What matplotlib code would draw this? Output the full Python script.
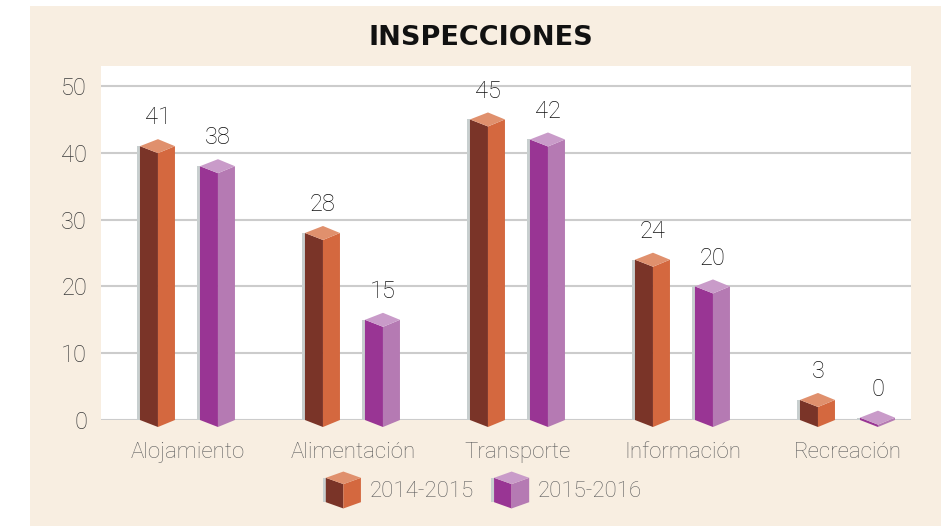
import matplotlib.pyplot as plt
from matplotlib.patches import Polygon, Rectangle
from matplotlib.legend_handler import HandlerBase

# data
categories = ["Alojamiento", "Alimentación", "Transporte", "Información", "Recreación"]
series_names = ["2014-2015", "2015-2016"]
values_2014 = [41, 28, 45, 24, 3]
values_2015 = [38, 15, 42, 20, 0]
yticks = [0, 10, 20, 30, 40, 50]

# colours: front face, side face, top
orange = ("#7a3428", "#d4683f", "#e0906d")
purple = ("#993594", "#b57ab3", "#c99bc9")
shadow = "#c8cfcf"
beige = "#f8eee1"

FONT = ["Roboto", "DejaVu Sans"]
plt.rcParams["font.family"] = FONT
plt.rcParams["font.weight"] = "light"

W, H = 941, 526
fig = plt.figure(figsize=(W / 100, H / 100), dpi=100)
fig.patches.append(Rectangle((30 / W, 0), 1 - 30 / W, 1 - 6 / H,
                             transform=fig.transFigure, fc=beige, ec="none", zorder=-10))

ax = fig.add_axes([101 / W, 1 - 420 / H, 810 / W, 354 / H])
ax.set_facecolor("white")
ymax = 53
ax.set_ylim(0, ymax)
ax.set_xlim(-0.527, 4.382)

px_y = 354 / ymax        # pixels per data unit (y)
px_x = 810 / 4.909       # pixels per data unit (x)
d = 7 / px_y             # depth of the top diamond
wl = 18 / px_x           # front face width
wr = 17 / px_x           # side face width
sh = 3 / px_x            # shadow strip
off = 30 / px_x          # bar offset from group centre

for s in ax.spines.values():
    s.set_visible(False)
ax.set_yticks(yticks)
ax.set_yticklabels([str(t) for t in yticks], fontsize=17, color="#3c3c3c")
ax.tick_params(axis="y", length=0, pad=10)
ax.grid(axis="y", color="#cccccc", lw=1.5)
ax.set_axisbelow(True)
ax.set_xticks(range(len(categories)))
ax.set_xticklabels(categories, fontsize=16, color="#5e5e5e")
ax.tick_params(axis="x", length=0, pad=16)


def draw_prism(ax, xc, v, cols):
    front, side, top = cols
    h = max(v, 0.35)
    xl, xr = xc - wl, xc + wr
    kw = dict(ec="none", clip_on=False, zorder=3)
    ax.add_patch(Polygon([(xl - sh, 0), (xl - sh, h), (xl, h), (xl, 0)],
                         fc=shadow, **kw))
    ax.add_patch(Polygon([(xl, 0), (xl, h), (xc, h - d), (xc, -d)], fc=front, **kw))
    ax.add_patch(Polygon([(xc, -d), (xc, h - d), (xr, h), (xr, 0)], fc=side, **kw))
    ax.add_patch(Polygon([(xl, h), (xc, h - d), (xr, h), (xc, h + d)], fc=top, **kw))
    ax.annotate(str(v), (xc, h + d), xytext=(0, 7), textcoords="offset points",
                ha="center", va="bottom", fontsize=17, color="#111111")


for i in range(len(categories)):
    draw_prism(ax, i - off, values_2014[i], orange)
    draw_prism(ax, i + off, values_2015[i], purple)

fig.text(481 / W, 1 - 38 / H, "INSPECCIONES", ha="center", va="center",
         fontsize=19.5, fontweight="bold", family="DejaVu Sans", color="#111111")


# legend with cube icons
class CubeHandler(HandlerBase):
    def create_artists(self, legend, orig_handle, xdescent, ydescent,
                       width, height, fontsize, trans):
        front, side, top = orig_handle
        x0, y0 = -xdescent, -ydescent
        w, hh = width, height
        xm = x0 + w * 0.5
        dd = hh * 0.17
        ytop = y0 + hh - dd
        pts = [
            ([(x0 - 2, y0 + dd), (x0 - 2, ytop), (x0, ytop), (x0, y0 + dd)], shadow),
            ([(x0, y0 + dd), (x0, ytop), (xm, ytop - dd), (xm, y0)], front),
            ([(xm, y0), (xm, ytop - dd), (x0 + w, ytop), (x0 + w, y0 + dd)], side),
            ([(x0, ytop), (xm, ytop - dd), (x0 + w, ytop), (xm, y0 + hh)], top),
        ]
        return [Polygon(p, fc=c, ec="none", transform=trans) for p, c in pts]


handles = [orange, purple]
leg = fig.legend(handles, series_names, handler_map={tuple: CubeHandler()},
                 loc="center", bbox_to_anchor=(484 / W, 1 - 490 / H), ncol=2,
                 frameon=False, fontsize=16, handlelength=1.58, handleheight=2.18,
                 handletextpad=0.4, columnspacing=0.9)
for t in leg.get_texts():
    t.set_color("#5e5e5e")

fig.savefig("out.png", dpi=100)
